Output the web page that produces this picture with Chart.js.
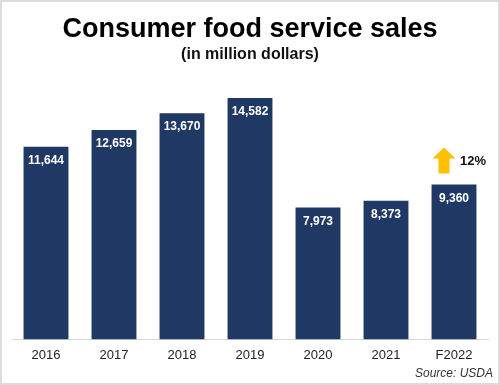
<!DOCTYPE html>
<html>
<head>
<meta charset="utf-8">
<script src="https://cdn.jsdelivr.net/npm/chart.js@4"></script>
<style>
  html, body { margin: 0; padding: 0; background: #fff; }
  #wrap { width: 500px; height: 385px; position: relative; }
</style>
</head>
<body>
<div id="wrap"><canvas id="salesChart" width="500" height="385"></canvas></div>
<script>
// data
const years = ['2016', '2017', '2018', '2019', '2020', '2021', 'F2022'];
const sales = [11644, 12659, 13670, 14582, 7973, 8373, 9360];
const growthLabel = '12%';
const sourceText = 'Source: USDA';

const barColor = '#1f3864';

// white numbers inside the top of each bar
const valueLabels = {
    id: 'valueLabels',
    afterDatasetsDraw(chart) {
        const ctx = chart.ctx;
        const meta = chart.getDatasetMeta(0);
        ctx.save();
        ctx.fillStyle = '#fff';
        ctx.font = 'bold 12px "Liberation Sans", Arial, sans-serif';
        ctx.textAlign = 'center';
        ctx.textBaseline = 'middle';
        meta.data.forEach((bar, i) => {
            ctx.fillText(sales[i].toLocaleString('en-US'), bar.x, bar.y + 14);
        });
        ctx.restore();
    }
};

// yellow arrow + growth label over the forecast bar, source note, border
const extras = {
    id: 'extras',
    afterDraw(chart) {
        const ctx = chart.ctx;
        const meta = chart.getDatasetMeta(0);
        const last = meta.data[meta.data.length - 1];
        const cx = last.x - 10;
        const bottom = last.y - 11;
        ctx.save();
        ctx.fillStyle = '#ffc000';
        ctx.beginPath();
        ctx.moveTo(cx - 5.5, bottom);
        ctx.lineTo(cx - 5.5, bottom - 15);
        ctx.lineTo(cx - 11.5, bottom - 15);
        ctx.lineTo(cx, bottom - 26);
        ctx.lineTo(cx + 11.5, bottom - 15);
        ctx.lineTo(cx + 5.5, bottom - 15);
        ctx.lineTo(cx + 5.5, bottom);
        ctx.closePath();
        ctx.fill();

        ctx.fillStyle = '#111';
        ctx.font = 'bold 13px "Liberation Sans", Arial, sans-serif';
        ctx.textAlign = 'left';
        ctx.textBaseline = 'middle';
        ctx.fillText(growthLabel, cx + 16, bottom - 12);

        ctx.fillStyle = '#333';
        ctx.font = 'italic 12px "Liberation Sans", Arial, sans-serif';
        ctx.textAlign = 'right';
        ctx.textBaseline = 'alphabetic';
        ctx.fillText(sourceText, chart.width - 7, chart.height - 8);

        ctx.strokeStyle = '#dcdcdc';
        ctx.lineWidth = 2;
        ctx.strokeRect(1, 1, chart.width - 2, chart.height - 2);
        ctx.restore();
    }
};

const data = {
    labels: years,
    datasets: [{
        data: sales,
        backgroundColor: barColor,
        barPercentage: 0.66,
        categoryPercentage: 1
    }]
};

const config = {
    type: 'bar',
    data: data,
    options: {
        responsive: false,
        animation: false,
        layout: { padding: { left: 12, right: 12, top: 0, bottom: 14 } },
        plugins: {
            legend: { display: false },
            tooltip: { enabled: false },
            title: {
                display: true,
                text: 'Consumer food service sales',
                color: '#000',
                font: { family: '"Liberation Sans", Arial, sans-serif', size: 27, weight: 'bold' },
                padding: { top: 13, bottom: 0 }
            },
            subtitle: {
                display: true,
                text: '(in million dollars)',
                color: '#111',
                font: { family: '"Liberation Sans", Arial, sans-serif', size: 16, weight: 'bold' },
                padding: { top: 0, bottom: 10 }
            }
        },
        scales: {
            x: {
                grid: { display: false, drawTicks: false },
                border: { display: true, color: '#d9d9d9', width: 1 },
                ticks: {
                    color: '#222',
                    padding: 8,
                    font: { family: '"Liberation Sans", Arial, sans-serif', size: 13 }
                }
            },
            y: {
                display: false,
                min: 0,
                max: 16000
            }
        }
    },
    plugins: [valueLabels, extras]
};

const salesChart = new Chart(document.getElementById('salesChart'), config);
</script>
</body>
</html>
